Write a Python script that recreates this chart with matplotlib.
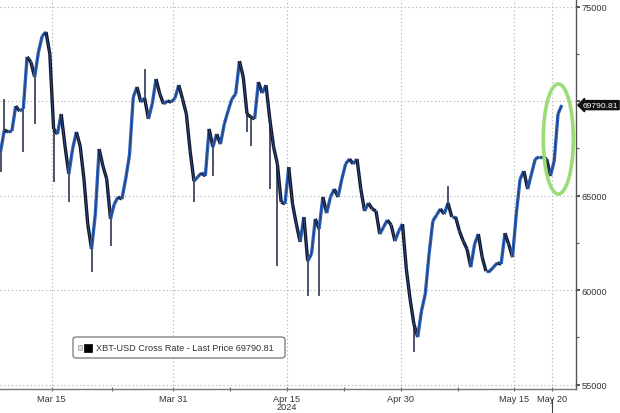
import matplotlib
matplotlib.use("Agg")
import matplotlib.pyplot as plt
import matplotlib.dates as mdates
import matplotlib.transforms as mtransforms
from matplotlib.collections import LineCollection
from matplotlib.patches import Ellipse, FancyBboxPatch, Rectangle
import numpy as np
import pandas as pd

# ---------------- data (XBT-USD, 12-hour closes) ----------------
start_time = "2024-03-08 06:00"
closes = [
    67310, 68470, 68370, 68420, 69740, 69480, 69590, 72340, 72070, 71280,
    72600, 73450, 73660, 72490, 68530, 68260, 69320, 67630, 66150, 67470,
    68370, 67630, 65880, 63500, 62180, 64030, 67470, 66570, 65880, 63770,
    64560, 64930, 64820, 65880, 67150, 70220, 70750, 69950, 70160, 69060,
    69850, 71170, 70380, 69850, 70010, 69950, 70160, 70850, 70110, 69320,
    67360, 65770, 65990, 66200, 66040, 68530, 67580, 68260, 67730, 68790,
    69480, 70110, 70380, 72120, 71280, 69320, 69160, 69060, 71010, 70430,
    70850, 69060, 67580, 66680, 64670, 64560, 66510, 64560, 63500, 62550,
    63870, 61540, 61910, 63770, 63240, 64930, 64080, 64930, 65350, 64930,
    65880, 66680, 66940, 66680, 66940, 65350, 64190, 64610, 64300, 64190,
    62970, 63340, 63710, 63450, 62600, 63130, 63500, 61120, 59530, 58210,
    57520, 58900, 59800, 61910, 63660, 63980, 64300, 64030, 64610, 63870,
    63870, 63130, 62600, 62180, 61220, 62430, 62970, 61750, 61010, 61010,
    61220, 61440, 61380, 63020, 62430, 61750, 64030, 65880, 66300, 65350,
    66150, 66940, 67050, 67050, 66940, 66040, 66830, 69320, 69790.81,
]
spike_times = [
    "2024-03-08 06:00", "2024-03-08 18:00", "2024-03-11 06:00", "2024-03-12 18:00",
    "2024-03-15 06:00", "2024-03-17 06:00", "2024-03-20 06:00", "2024-03-22 18:00",
    "2024-03-27 06:00", "2024-04-02 18:00", "2024-04-05 06:00", "2024-04-09 18:00",
    "2024-04-10 06:00", "2024-04-12 18:00", "2024-04-13 18:00", "2024-04-17 18:00",
    "2024-04-19 06:00", "2024-05-01 18:00", "2024-05-06 06:00",
]
spike_values = [
    66250, 70110, 67310, 68800,
    65710, 64670, 60950, 62330,
    71700, 64670, 66040, 68360,
    67620, 65350, 61280, 59690,
    59690, 56720, 65500,
]
last_price = 69790.81
legend_label = "XBT-USD Cross Rate - Last Price 69790.81"
y_ticks = [55000, 60000, 65000, 70000, 75000]
y_tick_labels = ["55000", "60000", "65000", "", "75000"]   # 70000 hidden behind the price tag
y_minor = [57500, 62500, 67500, 72500]
x_tick_dates = ["2024-03-15", "2024-03-31", "2024-04-15", "2024-04-30", "2024-05-15", "2024-05-20"]
x_tick_labels = ["Mar 15", "Mar 31", "Apr 15", "Apr 30", "May 15", "May 20"]
x_minor_dates = ["2024-03-23", "2024-04-07 12:00", "2024-04-22 12:00", "2024-05-07 12:00"]
year_label = "2024"

# ---------------- figure ----------------
plt.rcParams["font.family"] = ["Liberation Sans", "DejaVu Sans"]
W, H = 620, 414
fig = plt.figure(figsize=(W / 100, H / 100), dpi=100)
ax = fig.add_axes([0, 24 / H, 575.7 / W, 390 / H])

times = pd.date_range(start_time, periods=len(closes), freq="12h")
tn = mdates.date2num(times.to_pydatetime())
cl = np.array(closes, dtype=float)

BLUE = "#3064bb"
DARK = "#10152a"

segs = []
cols = []
for i in range(1, len(cl)):
    segs.append([(tn[i - 1], cl[i - 1]), (tn[i], cl[i])])
    cols.append(BLUE if cl[i] >= cl[i - 1] else DARK)
ax.add_collection(LineCollection(segs, colors=cols, linewidths=2.4, zorder=3,
                                 capstyle="butt", joinstyle="miter"))
# thin inner stroke to give the dense bar texture
ax.add_collection(LineCollection(segs, colors=["#1b2b55" if c == BLUE else "#3a5fa8" for c in cols],
                                 linewidths=0.6, zorder=3.5, alpha=0.8))

# wicks
st = mdates.date2num(pd.to_datetime(spike_times).to_pydatetime())
for t, v in zip(st, spike_values):
    idx = int(np.argmin(np.abs(tn - t)))
    ax.vlines(t, min(v, cl[idx]), max(v, cl[idx]), colors="#3b4660", linewidth=1.3, zorder=2)

ax.set_xlim(pd.Timestamp("2024-03-08 04:20"), pd.Timestamp("2024-05-23 02:00"))
ax.set_ylim(54773, 75404)

# grid
grid_kw = dict(color="#b8b8b8", linewidth=0.8, linestyle=(0, (1.2, 2.2)), zorder=1)
for yv in y_ticks:
    ax.axhline(yv, **grid_kw)
for d in x_tick_dates:
    ax.axvline(pd.Timestamp(d), **grid_kw)

# axes styling
for s in ["top", "left"]:
    ax.spines[s].set_visible(False)
ax.spines["right"].set_color("#555555")
ax.spines["bottom"].set_color("#777777")
ax.spines["right"].set_linewidth(1.0)
ax.spines["bottom"].set_linewidth(1.0)

ax.yaxis.tick_right()
ax.set_yticks(y_ticks)
ax.set_yticklabels(y_tick_labels)
ax.set_yticks(y_minor, minor=True)
ax.tick_params(axis="y", which="major", direction="out", length=3, width=1.2,
               color="#333333", labelsize=6.6, labelcolor="#333333", pad=1.5)
ax.tick_params(axis="y", which="minor", direction="out", length=2, width=0.8, color="#555555")

ax.set_xticks([pd.Timestamp(d) for d in x_tick_dates])
ax.set_xticklabels(x_tick_labels)
ax.set_xticks([pd.Timestamp(d) for d in x_minor_dates], minor=True)
ax.tick_params(axis="x", which="major", direction="inout", length=3, width=0.8,
               color="#666666", labelsize=6.6, labelcolor="#333333", pad=2)
ax.tick_params(axis="x", which="minor", direction="inout", length=3, width=0.8, color="#666666")

fig.text(287 / W, 1 - 408 / H, year_label, fontsize=6.6, color="#333333", ha="center", va="center")

# marker line under the last date
trans = mtransforms.blended_transform_factory(ax.transData, ax.transAxes)
ax.plot([pd.Timestamp("2024-05-20"), pd.Timestamp("2024-05-20")], [-0.025, -0.07],
        transform=trans, color="#444444", lw=0.8, clip_on=False)

# last price tag
ttrans = mtransforms.blended_transform_factory(ax.transAxes, ax.transData)
ax.text(1.012, last_price, f"{last_price:.2f}", transform=ttrans, fontsize=6.1,
        color="white", ha="left", va="center", clip_on=False,
        bbox=dict(boxstyle="larrow,pad=0.12", fc="#111111", ec="#111111"))

# green ellipse
center = mdates.date2num(pd.Timestamp("2024-05-20 19:00"))
ax.add_patch(Ellipse((center, 67998), width=3.96, height=5820, fill=False,
                     ec="#9bdc78", lw=2.6, zorder=4))

# legend box
fig.patches.append(FancyBboxPatch((73 / W, 1 - 359 / H), 212 / W, 21 / H,
                                  boxstyle="round,pad=0,rounding_size=0.006",
                                  transform=fig.transFigure, fc="white", ec="#777777", lw=0.9))
fig.patches.append(Rectangle((78 / W, 1 - 351 / H), 4 / W, 5 / H, transform=fig.transFigure,
                             fc="#dddddd", ec="#999999", lw=0.5))
fig.patches.append(Rectangle((84 / W, 1 - 352.5 / H), 8 / W, 8 / H, transform=fig.transFigure,
                             fc="black", ec="black", lw=0.5))
fig.text(96 / W, 1 - 348.5 / H, legend_label, fontsize=6.6, color="#333333", ha="left", va="center")

fig.savefig("out.png", dpi=100)
